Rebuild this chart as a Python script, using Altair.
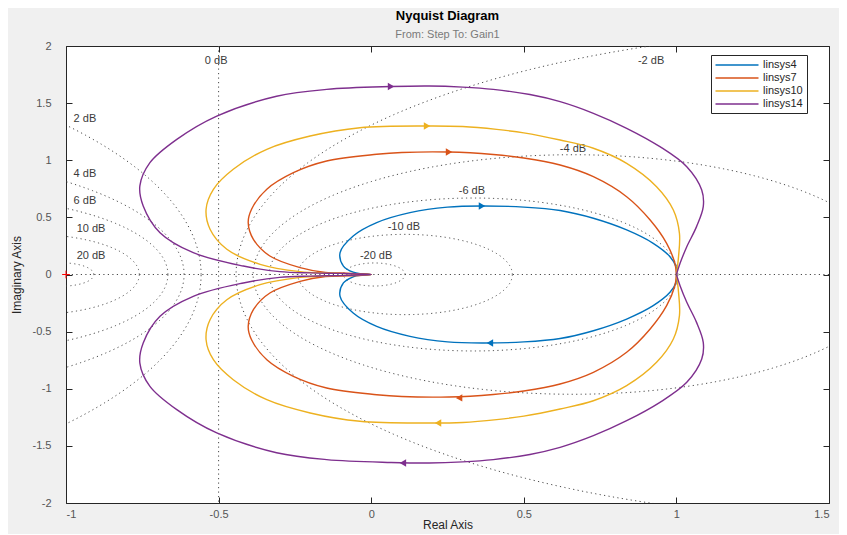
import altair as alt
import numpy as np
import pandas as pd

# ---------------- data ----------------
systems = ["linsys4", "linsys7", "linsys10", "linsys14"]
line_colors = ["#0072BD", "#D95319", "#EDB120", "#7E2F8E"]

# upper half of each Nyquist curve (negative frequencies), traced from (1, 0) to the origin;
# the lower half is its mirror image about the real axis
linsys4_re = [1.0, 0.999, 0.979, 0.924, 0.837, 0.728, 0.619, 0.50, 0.363, 0.25, 0.127, 0.018,
              -0.059, -0.102, -0.091, -0.059, -0.03, 0.0]
linsys4_im = [0.0, 0.068, 0.156, 0.273, 0.39, 0.492, 0.56, 0.59, 0.60, 0.59, 0.541, 0.454,
              0.337, 0.191, 0.074, 0.02, 0.006, 0.0]

linsys7_re = [1.0, 0.995, 0.968, 0.914, 0.837, 0.728, 0.619, 0.50, 0.40, 0.255, 0.10, 0.018,
              -0.146, -0.255, -0.342, -0.392, -0.403, -0.386, -0.332, -0.233, -0.15, -0.08,
              -0.03, 0.0]
linsys7_im = [0.0, 0.098, 0.273, 0.477, 0.681, 0.856, 0.958, 1.02, 1.05, 1.072, 1.068, 1.052,
              0.993, 0.891, 0.746, 0.571, 0.454, 0.308, 0.162, 0.060, 0.018, 0.012, 0.006, 0.0]

linsys10_re = [1.0, 1.007, 1.01, 0.99, 0.935, 0.837, 0.728, 0.619, 0.50, 0.411, 0.30, 0.183,
               -0.037, -0.2, -0.342, -0.452, -0.517, -0.541, -0.528, -0.473, -0.364, -0.233,
               -0.15, -0.07, 0.0]
linsys10_im = [0.0, 0.156, 0.36, 0.565, 0.769, 0.973, 1.105, 1.177, 1.24, 1.27, 1.295, 1.30,
               1.285, 1.212, 1.096, 0.921, 0.746, 0.571, 0.396, 0.221, 0.089, 0.025, 0.013,
               0.008, 0.0]

linsys14_re = [1.0, 1.012, 1.034, 1.066, 1.088, 1.083, 1.034, 0.946, 0.837, 0.728, 0.619, 0.52,
               0.40, 0.30, 0.19, 0.065, -0.146, -0.31, -0.506, -0.637, -0.725, -0.758, -0.747,
               -0.692, -0.583, -0.419, -0.30, -0.2, -0.1, -0.04, 0.0]
linsys14_im = [0.0, 0.098, 0.243, 0.419, 0.594, 0.74, 0.944, 1.119, 1.28, 1.411, 1.513, 1.575,
               1.62, 1.64, 1.65, 1.645, 1.62, 1.56, 1.387, 1.183, 0.979, 0.775, 0.60, 0.366,
               0.191, 0.074, 0.025, 0.014, 0.01, 0.005, 0.0]

curve_re = [linsys4_re, linsys7_re, linsys10_re, linsys14_re]
curve_im = [linsys4_im, linsys7_im, linsys10_im, linsys14_im]

# direction arrows
arrow_up_re = [0.363, 0.255, 0.183, 0.065]
arrow_up_im = [0.60, 1.072, 1.30, 1.645]
arrow_lo_re = [0.389, 0.288, 0.219, 0.104]
arrow_lo_im = [-0.60, -1.08, -1.30, -1.65]

# constant-magnitude (M-circle) grid levels, in dB
grid_db = [-20, -10, -6, -4, -2, 2, 4, 6, 10, 20]
zero_db_re = [-0.5]
real_axis_im = [0.0]
critical_re = [-1.0]
critical_im = [0.0]

label_text = ["0 dB", "-2 dB", "2 dB", "4 dB", "6 dB", "10 dB", "20 dB",
              "-4 dB", "-6 dB", "-10 dB", "-20 dB"]
label_re = [-0.508, 0.917, -0.938, -0.938, -0.938, -0.918, -0.918, 0.661, 0.330, 0.107, 0.016]
label_im = [1.869, 1.869, 1.361, 0.88, 0.643, 0.398, 0.162, 1.098, 0.731, 0.416, 0.162]

x_ticks = [-1, -0.5, 0, 0.5, 1, 1.5]
y_ticks = [-2, -1.5, -1, -0.5, 0, 0.5, 1, 1.5, 2]

# ---------------- tables ----------------
rows = []
for name, re_list, im_list in zip(systems, curve_re, curve_im):
    k = 0
    for r, i in zip(re_list, im_list):
        rows.append({"sys": name, "k": k, "re": r, "im": -i})
        k += 1
    for r, i in list(zip(re_list, im_list))[-2::-1]:
        rows.append({"sys": name, "k": k, "re": r, "im": i})
        k += 1
curves = pd.DataFrame(rows)

arrows_up = pd.DataFrame({"sys": systems, "re": arrow_up_re, "im": arrow_up_im})
arrows_lo = pd.DataFrame({"sys": systems, "re": arrow_lo_re, "im": arrow_lo_im})

theta = np.linspace(0, 2 * np.pi, 721)
grid_rows = []
for db in grid_db:
    m = 10 ** (db / 20)
    c = -m * m / (m * m - 1)
    rad = abs(m / (m * m - 1))
    for j, t in enumerate(theta):
        grid_rows.append({"db": db, "j": j, "re": c + rad * np.cos(t), "im": rad * np.sin(t)})
grid = pd.DataFrame(grid_rows)

labels = pd.DataFrame({"text": label_text, "re": label_re, "im": label_im})

# ---------------- chart ----------------
FONT = "Liberation Sans"
xs = alt.Scale(domain=[-1, 1.5], nice=False, zero=False)
ys = alt.Scale(domain=[-2, 2], nice=False, zero=False)
cs = alt.Scale(domain=systems, range=line_colors)
dot = [1.2, 3.3]
grid_col = "#4a4a4a"

x_main = alt.Axis(values=x_ticks, labelExpr="'' + datum.value", title="Real Axis",
                  orient="bottom", offset=-6, tickSize=6, domain=False, grid=False,
                  labelPadding=5, titlePadding=0, labelFontSize=11, titleFontSize=12,
                  labelColor="#555555", titleColor="#262626", tickColor="#262626",
                  labelFont=FONT, titleFont=FONT, titleFontWeight="normal")
y_main = alt.Axis(values=y_ticks, labelExpr="'' + datum.value", title="Imaginary Axis",
                  orient="left", offset=-6, tickSize=6, domain=False, grid=False,
                  labelPadding=15, titlePadding=9, labelFontSize=11, titleFontSize=12,
                  labelColor="#555555", titleColor="#262626", tickColor="#262626",
                  labelFont=FONT, titleFont=FONT, titleFontWeight="normal")
x_top = alt.Axis(values=x_ticks, orient="top", offset=-6, tickSize=6, domain=False,
                 grid=False, labels=False, title=None, tickColor="#262626")
y_right = alt.Axis(values=y_ticks, orient="right", offset=-6, tickSize=6, domain=False,
                   grid=False, labels=False, title=None, tickColor="#262626")

mcircles = alt.Chart(grid).mark_line(
    clip=True, strokeDash=dot, strokeWidth=1, color=grid_col
).encode(
    x=alt.X("re:Q", scale=xs, axis=None),
    y=alt.Y("im:Q", scale=ys, axis=None),
    detail="db:N",
    order="j:Q",
)

zero_line = alt.Chart(pd.DataFrame({"re": zero_db_re})).mark_rule(
    strokeDash=dot, strokeWidth=1, color=grid_col
).encode(x=alt.X("re:Q", scale=xs, axis=None))

real_line = alt.Chart(pd.DataFrame({"im": real_axis_im})).mark_rule(
    strokeDash=dot, strokeWidth=1, color=grid_col
).encode(y=alt.Y("im:Q", scale=ys, axis=None))

db_labels = alt.Chart(labels).mark_text(
    font=FONT, fontSize=11, color="#3a3a3a", align="center", baseline="middle"
).encode(
    x=alt.X("re:Q", scale=xs, axis=None),
    y=alt.Y("im:Q", scale=ys, axis=None),
    text="text:N",
)

lines = alt.Chart(curves).mark_line(
    strokeWidth=1.4, clip=True, interpolate="catmull-rom"
).encode(
    x=alt.X("re:Q", scale=xs, axis=x_main),
    y=alt.Y("im:Q", scale=ys, axis=y_main),
    color=alt.Color(
        "sys:N", scale=cs,
        legend=alt.Legend(
            title=None, orient="none", legendX=645, legendY=9,
            symbolType="M-4.3,0H4.3", symbolSize=100, symbolOffset=16,
            symbolStrokeWidth=1.4, labelOffset=20, labelFontSize=11,
            labelFont=FONT, labelColor="#262626",
            strokeColor="#262626", fillColor="white", padding=4, rowPadding=2,
            cornerRadius=0,
        ),
    ),
    detail="sys:N",
    order="k:Q",
)

up_marks = alt.Chart(arrows_up).mark_point(
    shape="triangle-right", filled=True, size=55, opacity=1
).encode(
    x=alt.X("re:Q", scale=xs, axis=None),
    y=alt.Y("im:Q", scale=ys, axis=None),
    color=alt.Color("sys:N", scale=cs, legend=None),
)

lo_marks = alt.Chart(arrows_lo).mark_point(
    shape="triangle-left", filled=True, size=55, opacity=1
).encode(
    x=alt.X("re:Q", scale=xs, axis=None),
    y=alt.Y("im:Q", scale=ys, axis=None),
    color=alt.Color("sys:N", scale=cs, legend=None),
)

critical = alt.Chart(pd.DataFrame({"re": critical_re, "im": critical_im})).mark_point(
    shape="M-1,0H1M0,-1V1", filled=False, size=60, color="#FF0000", strokeWidth=1, opacity=1
).encode(
    x=alt.X("re:Q", scale=xs, axis=x_top),
    y=alt.Y("im:Q", scale=ys, axis=y_right),
)

chart = alt.layer(
    mcircles, zero_line, real_line, db_labels, lines, up_marks, lo_marks, critical
).resolve_axis(
    x="independent", y="independent"
).properties(
    width=763,
    height=457,
    autosize=alt.AutoSizeParams(type="none"),
    padding={"left": 58, "top": 38, "right": 10, "bottom": 31},
    title=alt.TitleParams(
        "Nyquist Diagram", subtitle="From: Step  To: Gain1",
        font=FONT, fontSize=13, fontWeight="bold", color="#000000",
        subtitleFont=FONT, subtitleFontSize=11, subtitleColor="#7a7a7a",
        anchor="middle", offset=0, subtitlePadding=6,
    ),
).configure(
    background="#f0f0f0",
).configure_view(
    fill="white", stroke="#262626", strokeWidth=1,
)

chart.save("out.html", embed_options={"renderer": "svg", "actions": False})
